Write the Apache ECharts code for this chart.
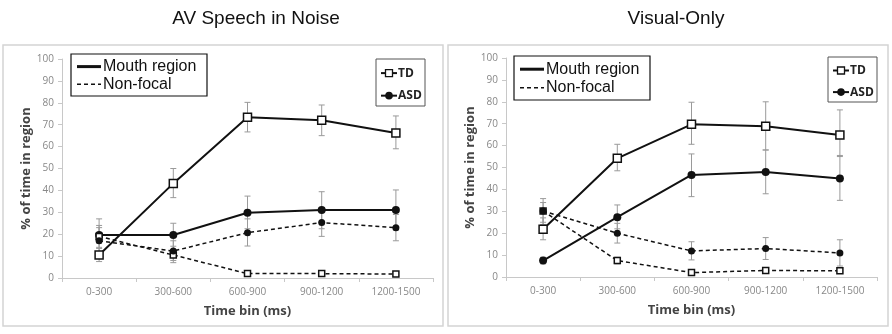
<!DOCTYPE html>
<html>
<head>
<meta charset="utf-8">
<script src="https://cdn.jsdelivr.net/npm/echarts@6/dist/echarts.min.js"></script>
<style>html,body{margin:0;padding:0;background:#fff}#c{width:892px;height:334px}</style>
</head>
<body>
<div id="c"></div>
<script>
// ---- data ----
const categories = ['0-300', '300-600', '600-900', '900-1200', '1200-1500'];
const titles = ['AV Speech in Noise', 'Visual-Only'];
const yMin = 0, yMax = 100, yStep = 10;

// AV Speech in Noise
const avTdMouth      = [10.5, 43.2, 73.4, 72.0, 66.2];
const avTdMouthLow   = [7.5, 36.7, 66.7, 65.0, 59.0];
const avTdMouthHigh  = [13.5, 50.0, 80.2, 79.0, 74.0];
const avAsdMouth     = [19.6, 19.6, 29.8, 31.0, 31.0];
const avAsdMouthLow  = [14.0, 14.5, 22.5, 22.5, 22.0];
const avAsdMouthHigh = [27.0, 25.0, 37.4, 39.4, 40.2];
const avTdNon        = [19.0, 10.5, 2.0, 2.0, 1.8];
const avTdNonLow     = [16.0, 8.0, 1.0, 1.0, 1.0];
const avTdNonHigh    = [24.0, 13.0, 3.0, 3.0, 2.6];
const avAsdNon       = [17.0, 12.3, 20.7, 25.3, 23.0];
const avAsdNonLow    = [12.0, 7.0, 14.6, 19.0, 17.0];
const avAsdNonHigh   = [23.0, 17.0, 27.0, 32.0, 29.0];

// Visual-Only
const viTdMouth      = [21.8, 54.2, 69.7, 68.8, 64.8];
const viTdMouthLow   = [17.0, 48.5, 60.6, 58.0, 55.0];
const viTdMouthHigh  = [27.0, 60.6, 79.8, 80.0, 76.3];
const viAsdMouth     = [7.5, 27.3, 46.6, 47.9, 45.0];
const viAsdMouthLow  = [6.0, 22.0, 36.7, 38.0, 35.0];
const viAsdMouthHigh = [9.0, 32.9, 56.2, 58.0, 55.5];
const viTdNon        = [30.1, 7.5, 2.0, 3.0, 2.8];
const viTdNonLow     = [25.0, 6.0, 1.0, 2.0, 2.0];
const viTdNonHigh    = [35.8, 9.0, 3.0, 4.0, 3.6];
const viAsdNon       = [30.1, 20.0, 11.9, 13.0, 11.0];
const viAsdNonLow    = [24.0, 15.5, 7.8, 8.0, 5.0];
const viAsdNonHigh   = [34.0, 24.5, 16.1, 18.0, 17.0];

const legendRegion = ['Mouth region', 'Non-focal'];
const legendGroup = ['TD', 'ASD'];

// ---- build ----
const INK = '#111';
const tickFont = '"Open Sans", "DejaVu Sans", sans-serif';

function grid(left, top) { return { left: left, top: top, width: 371, height: 219 }; }

function xAxis(i) {
  return {
    type: 'category', gridIndex: i, data: categories,
    axisLine: { lineStyle: { color: '#c8c8c8', width: 1 } },
    axisTick: { show: true, length: 4, lineStyle: { color: '#c8c8c8' } },
    axisLabel: { color: '#888', fontSize: 10, fontFamily: tickFont, margin: 9 },
    name: 'Time bin (ms)', nameLocation: 'middle', nameGap: 27,
    nameTextStyle: { color: '#444', fontSize: 13, fontWeight: 'bold', fontFamily: tickFont }
  };
}
function yAxis(i) {
  return {
    type: 'value', gridIndex: i, min: yMin, max: yMax, interval: yStep,
    axisLine: { show: true, lineStyle: { color: '#c8c8c8', width: 1 } },
    axisTick: { show: true, length: 4, lineStyle: { color: '#c8c8c8' } },
    splitLine: { show: false },
    axisLabel: { color: '#888', fontSize: 10, fontFamily: tickFont, margin: 8 },
    name: '% of time in region', nameLocation: 'middle', nameGap: 28,
    nameTextStyle: { color: '#444', fontSize: 13, fontWeight: 'bold', fontFamily: tickFont }
  };
}

function lineSeries(i, data, td, dashed) {
  return {
    type: 'line', xAxisIndex: i, yAxisIndex: i, data: data, z: 5,
    symbol: td ? 'rect' : 'circle',
    symbolSize: dashed ? (td ? 6 : 7) : (td ? 8 : 8),
    lineStyle: { color: INK, width: dashed ? 1.5 : 2, type: dashed ? [4, 3] : 'solid' },
    itemStyle: td ? { color: '#fff', borderColor: INK, borderWidth: 1.5 } : { color: INK, borderColor: INK, borderWidth: 0 },
    emphasis: { disabled: true }, animation: false
  };
}

function errSeries(i, low, high) {
  return {
    type: 'custom', xAxisIndex: i, yAxisIndex: i, z: 3, animation: false,
    data: categories.map((c, k) => [k, low[k], high[k]]),
    renderItem: function (params, api) {
      const lo = api.coord([api.value(0), api.value(1)]);
      const hi = api.coord([api.value(0), api.value(2)]);
      const w = 3;
      const st = { stroke: '#9a9a9a', lineWidth: 1 };
      return {
        type: 'group', children: [
          { type: 'line', shape: { x1: lo[0], y1: lo[1], x2: hi[0], y2: hi[1] }, style: st },
          { type: 'line', shape: { x1: lo[0] - w, y1: lo[1], x2: lo[0] + w, y2: lo[1] }, style: st },
          { type: 'line', shape: { x1: hi[0] - w, y1: hi[1], x2: hi[0] + w, y2: hi[1] }, style: st }
        ]
      };
    }
  };
}

const panels = [
  { s: [[avTdMouth, avTdMouthLow, avTdMouthHigh, true, false], [avAsdMouth, avAsdMouthLow, avAsdMouthHigh, false, false],
        [avTdNon, avTdNonLow, avTdNonHigh, true, true], [avAsdNon, avAsdNonLow, avAsdNonHigh, false, true]] },
  { s: [[viTdMouth, viTdMouthLow, viTdMouthHigh, true, false], [viAsdMouth, viAsdMouthLow, viAsdMouthHigh, false, false],
        [viTdNon, viTdNonLow, viTdNonHigh, true, true], [viAsdNon, viAsdNonLow, viAsdNonHigh, false, true]] }
];

const series = [];
panels.forEach((p, i) => {
  p.s.forEach(d => { series.push(errSeries(i, d[1], d[2])); });
  p.s.forEach(d => { series.push(lineSeries(i, d[0], d[3], d[4])); });
});

// legend / frame graphics
function panelGraphics(ox, regBox, grpBox) {
  const g = [];
  g.push({ type: 'rect', shape: { x: ox + 3, y: 45, width: 440, height: 281 }, style: { fill: 'none', stroke: '#d4d4d4', lineWidth: 1.5 }, z: 0 });
  // region legend
  g.push({ type: 'rect', shape: { x: ox + regBox.x, y: regBox.y, width: 136, height: regBox.h }, style: { fill: '#fff', stroke: INK, lineWidth: 1.2 }, z: 10 });
  const r1 = regBox.y + regBox.h * 0.3, r2 = regBox.y + regBox.h * 0.72;
  g.push({ type: 'line', shape: { x1: ox + regBox.x + 6, y1: r1, x2: ox + regBox.x + 30, y2: r1 }, style: { stroke: INK, lineWidth: 3 }, z: 11 });
  g.push({ type: 'line', shape: { x1: ox + regBox.x + 6, y1: r2, x2: ox + regBox.x + 30, y2: r2 }, style: { stroke: INK, lineWidth: 1.5, lineDash: [4, 3] }, z: 11 });
  g.push({ type: 'text', x: ox + regBox.x + 32, y: r1, style: { text: legendRegion[0], fill: INK, font: '16px "Liberation Sans", Arial, sans-serif', textVerticalAlign: 'middle' }, z: 11 });
  g.push({ type: 'text', x: ox + regBox.x + 32, y: r2, style: { text: legendRegion[1], fill: INK, font: '16px "Liberation Sans", Arial, sans-serif', textVerticalAlign: 'middle' }, z: 11 });
  // group legend
  g.push({ type: 'rect', shape: { x: ox + grpBox.x, y: grpBox.y, width: 49, height: grpBox.h }, style: { fill: '#fff', stroke: '#555', lineWidth: 1 }, z: 10 });
  const t1 = grpBox.y + grpBox.h * 0.3, t2 = grpBox.y + grpBox.h * 0.78;
  const lx = ox + grpBox.x + 5;
  g.push({ type: 'line', shape: { x1: lx, y1: t1, x2: lx + 16, y2: t1 }, style: { stroke: INK, lineWidth: 2 }, z: 11 });
  g.push({ type: 'rect', shape: { x: lx + 4.5, y: t1 - 3.5, width: 7, height: 7 }, style: { fill: '#fff', stroke: INK, lineWidth: 1.3 }, z: 12 });
  g.push({ type: 'line', shape: { x1: lx, y1: t2, x2: lx + 16, y2: t2 }, style: { stroke: INK, lineWidth: 2 }, z: 11 });
  g.push({ type: 'circle', shape: { cx: lx + 8, cy: t2, r: 3.8 }, style: { fill: INK }, z: 12 });
  g.push({ type: 'text', x: lx + 17, y: t1, style: { text: legendGroup[0], fill: '#222', font: 'bold 12px "Open Sans", sans-serif', textVerticalAlign: 'middle' }, z: 11 });
  g.push({ type: 'text', x: lx + 17, y: t2, style: { text: legendGroup[1], fill: '#222', font: 'bold 12px "Open Sans", sans-serif', textVerticalAlign: 'middle' }, z: 11 });
  return g;
}

const option = {
  backgroundColor: '#fff',
  animation: false,
  title: [
    { text: titles[0], left: 251, top: 4, textAlign: 'center', textStyle: { fontSize: 19, fontWeight: 'normal', color: '#111', fontFamily: '"Liberation Sans", Arial, sans-serif' } },
    { text: titles[1], left: 671, top: 4, textAlign: 'center', textStyle: { fontSize: 19, fontWeight: 'normal', color: '#111', fontFamily: '"Liberation Sans", Arial, sans-serif' } }
  ],
  grid: [grid(62, 59), grid(506, 58)],
  xAxis: [xAxis(0), xAxis(1)],
  yAxis: [yAxis(0), yAxis(1)],
  series: series,
  graphic: panelGraphics(0, { x: 71, y: 54, h: 42 }, { x: 376, y: 59, h: 47 })
    .concat(panelGraphics(445, { x: 69, y: 56, h: 44 }, { x: 383, y: 57, h: 45 }))
};

const chart = echarts.init(document.getElementById('c'), null, { renderer: 'canvas' });
chart.setOption(option);
</script>
</body>
</html>
